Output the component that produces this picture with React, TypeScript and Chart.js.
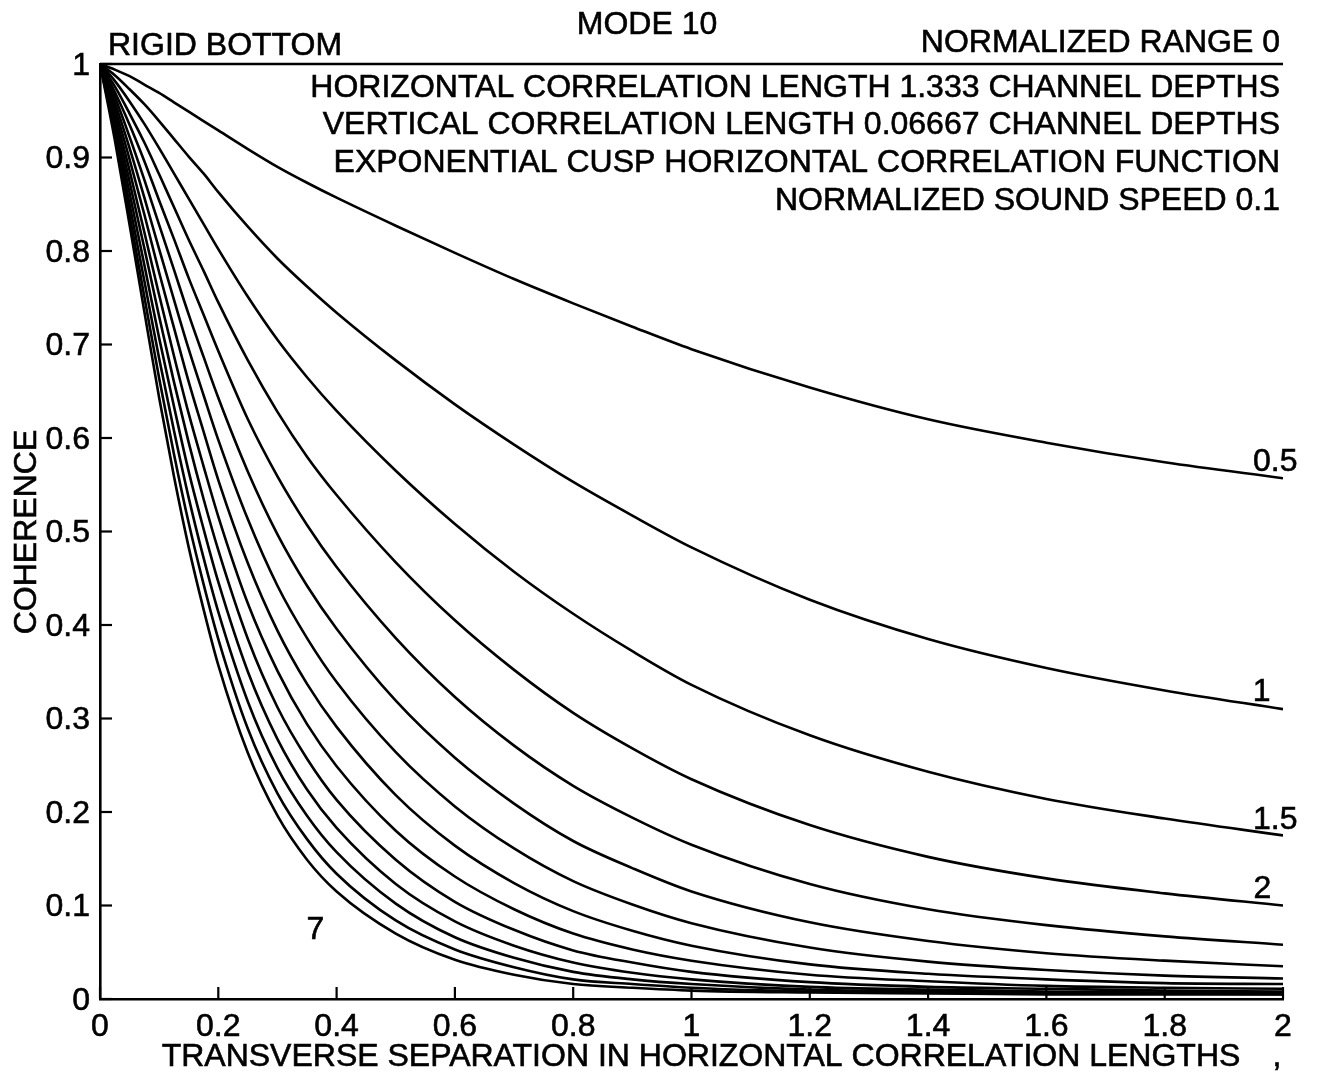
import React, { useEffect, useRef } from "react";
import { Chart, registerables } from "chart.js";

Chart.register(...registerables);

// ---- data ----
const separation = [0, 0.025, 0.05, 0.075, 0.1, 0.125, 0.15, 0.175, 0.2, 0.25, 0.3, 0.35, 0.4, 0.5, 0.6, 0.7, 0.8, 0.9, 1.0, 1.2, 1.4, 1.6, 1.8, 2.0];

const rangeNames = ["0.5", "1", "1.5", "2", "2.5", "3", "3.5", "4", "4.5", "5", "5.5", "6", "6.5", "7"];

const coh05 = [1, 0.994, 0.987, 0.978, 0.969, 0.959, 0.949, 0.939, 0.929, 0.909, 0.890, 0.873, 0.857, 0.827, 0.798, 0.770, 0.744, 0.719, 0.695, 0.654, 0.620, 0.595, 0.574, 0.557];
const coh10 = [1, 0.988, 0.973, 0.957, 0.939, 0.920, 0.901, 0.883, 0.863, 0.826, 0.792, 0.762, 0.734, 0.683, 0.636, 0.593, 0.553, 0.517, 0.483, 0.427, 0.385, 0.354, 0.330, 0.310];
const coh15 = [1, 0.982, 0.960, 0.936, 0.910, 0.883, 0.856, 0.829, 0.802, 0.751, 0.705, 0.665, 0.629, 0.565, 0.508, 0.457, 0.412, 0.372, 0.336, 0.282, 0.243, 0.214, 0.193, 0.175];
const coh20 = [1, 0.976, 0.947, 0.916, 0.882, 0.847, 0.812, 0.779, 0.745, 0.683, 0.628, 0.580, 0.539, 0.467, 0.405, 0.352, 0.306, 0.268, 0.235, 0.186, 0.152, 0.129, 0.113, 0.100];
const coh25 = [1, 0.970, 0.935, 0.896, 0.854, 0.813, 0.771, 0.732, 0.693, 0.620, 0.559, 0.507, 0.462, 0.386, 0.323, 0.271, 0.228, 0.194, 0.165, 0.123, 0.096, 0.079, 0.067, 0.058];
const coh30 = [1, 0.965, 0.922, 0.876, 0.828, 0.780, 0.732, 0.687, 0.643, 0.564, 0.497, 0.442, 0.396, 0.319, 0.258, 0.209, 0.169, 0.140, 0.115, 0.082, 0.062, 0.049, 0.041, 0.035];
const coh35 = [1, 0.959, 0.910, 0.857, 0.802, 0.748, 0.695, 0.646, 0.598, 0.513, 0.442, 0.386, 0.339, 0.264, 0.206, 0.161, 0.126, 0.101, 0.081, 0.055, 0.040, 0.031, 0.025, 0.022];
const coh40 = [1, 0.953, 0.898, 0.839, 0.777, 0.718, 0.660, 0.607, 0.555, 0.466, 0.394, 0.337, 0.291, 0.218, 0.164, 0.124, 0.094, 0.073, 0.057, 0.037, 0.027, 0.021, 0.017, 0.016];
const coh45 = [1, 0.947, 0.886, 0.820, 0.753, 0.688, 0.626, 0.570, 0.516, 0.423, 0.351, 0.294, 0.249, 0.180, 0.131, 0.096, 0.070, 0.053, 0.041, 0.026, 0.019, 0.014, 0.012, 0.011];
const coh50 = [1, 0.942, 0.874, 0.803, 0.730, 0.660, 0.595, 0.535, 0.480, 0.385, 0.312, 0.257, 0.213, 0.149, 0.104, 0.074, 0.052, 0.039, 0.029, 0.018, 0.013, 0.011, 0.009, 0.008];
const coh55 = [1, 0.936, 0.862, 0.785, 0.707, 0.634, 0.564, 0.503, 0.446, 0.350, 0.278, 0.224, 0.183, 0.123, 0.083, 0.057, 0.039, 0.028, 0.021, 0.013, 0.010, 0.008, 0.007, 0.007];
const coh60 = [1, 0.931, 0.850, 0.768, 0.685, 0.608, 0.536, 0.472, 0.414, 0.318, 0.247, 0.196, 0.157, 0.102, 0.066, 0.044, 0.029, 0.021, 0.016, 0.010, 0.008, 0.007, 0.006, 0.006];
const coh65 = [1, 0.925, 0.839, 0.751, 0.664, 0.583, 0.509, 0.444, 0.385, 0.289, 0.220, 0.171, 0.134, 0.084, 0.053, 0.034, 0.021, 0.016, 0.012, 0.008, 0.007, 0.006, 0.006, 0.005];
const coh70 = [1, 0.919, 0.828, 0.735, 0.643, 0.559, 0.483, 0.417, 0.357, 0.263, 0.196, 0.149, 0.115, 0.070, 0.042, 0.026, 0.016, 0.012, 0.009, 0.007, 0.006, 0.005, 0.005, 0.005];

const allSeries = [coh05, coh10, coh15, coh20, coh25, coh30, coh35, coh40, coh45, coh50, coh55, coh60, coh65, coh70];

const xTickValues = [0, 0.2, 0.4, 0.6, 0.8, 1, 1.2, 1.4, 1.6, 1.8, 2];
const xTickLabels = ["0", "0.2", "0.4", "0.6", "0.8", "1", "1.2", "1.4", "1.6", "1.8", "2"];
const yTickValues = [0, 0.1, 0.2, 0.3, 0.4, 0.5, 0.6, 0.7, 0.8, 0.9, 1];
const yTickLabels = ["0", "0.1", "0.2", "0.3", "0.4", "0.5", "0.6", "0.7", "0.8", "0.9", "1"];

// curve labels (text at data coordinates)
const curveLabelText = ["0.5", "1", "1.5", "2", "7"];
const curveLabelX = [1.987, 1.964, 1.987, 1.965, 0.364];
const curveLabelY = [0.574, 0.328, 0.191, 0.117, 0.074];

const titleText = "MODE 10";
const leftHeader = "RIGID BOTTOM";
const rightHeader = "NORMALIZED RANGE 0";
const infoLines = [
  "HORIZONTAL CORRELATION LENGTH 1.333 CHANNEL DEPTHS",
  "VERTICAL CORRELATION LENGTH 0.06667 CHANNEL DEPTHS",
  "EXPONENTIAL CUSP HORIZONTAL CORRELATION FUNCTION",
  "NORMALIZED SOUND SPEED 0.1",
];
const xAxisTitle = "TRANSVERSE SEPARATION IN HORIZONTAL CORRELATION LENGTHS";
const yAxisTitle = "COHERENCE";

const FONT = '32px "Liberation Sans", Arial, Helvetica, sans-serif';

function txt(ctx: CanvasRenderingContext2D, s: string, x: number, y: number) {
  ctx.fillText(s, x, y);
  ctx.strokeText(s, x, y);
}

const decorPlugin = {
  id: "decor",
  afterDraw(chart: any) {
    const { ctx, chartArea, scales } = chart;
    const xs = scales.x;
    const ys = scales.y;
    const { left, right, top, bottom } = chartArea;
    ctx.save();
    ctx.strokeStyle = "#000";
    ctx.fillStyle = "#000";
    // top frame line
    ctx.lineWidth = 2.6;
    ctx.beginPath();
    ctx.moveTo(left, top);
    ctx.lineTo(right, top);
    ctx.stroke();
    // inward ticks
    ctx.lineWidth = 2.2;
    xTickValues.forEach((v) => {
      const px = xs.getPixelForValue(v);
      ctx.beginPath();
      ctx.moveTo(px, bottom);
      ctx.lineTo(px, bottom - 12);
      ctx.stroke();
    });
    yTickValues.forEach((v) => {
      const py = ys.getPixelForValue(v);
      ctx.beginPath();
      ctx.moveTo(left, py);
      ctx.lineTo(left + 12, py);
      ctx.stroke();
    });
    // text
    ctx.font = FONT;
    ctx.lineWidth = 0.6;
    ctx.textBaseline = "middle";
    ctx.textAlign = "right";
    yTickValues.forEach((v, i) => {
      txt(ctx, yTickLabels[i], left - 10, ys.getPixelForValue(v) + 2);
    });
    ctx.textAlign = "center";
    xTickValues.forEach((v, i) => {
      txt(ctx, xTickLabels[i], xs.getPixelForValue(v), bottom + 28);
    });
    txt(ctx, xAxisTitle, 701, bottom + 58);
    txt(ctx, ",", 1277, bottom + 58);
    ctx.save();
    ctx.translate(27, 532);
    ctx.rotate(-Math.PI / 2);
    txt(ctx, yAxisTitle, 0, 0);
    ctx.restore();
    ctx.textAlign = "center";
    txt(ctx, titleText, 647, 25);
    ctx.textAlign = "left";
    txt(ctx, leftHeader, 108, 46);
    ctx.textAlign = "right";
    txt(ctx, rightHeader, 1280, 43);
    const lineYs = [88, 125, 163, 201];
    infoLines.forEach((t, i) => txt(ctx, t, 1280, lineYs[i]));
    ctx.textAlign = "center";
    curveLabelText.forEach((t, i) => {
      txt(ctx, t, xs.getPixelForValue(curveLabelX[i]), ys.getPixelForValue(curveLabelY[i]));
    });
    ctx.restore();
  },
};

export default function App() {
  const ref = useRef<HTMLCanvasElement | null>(null);
  useEffect(() => {
    if (!ref.current) return;
    const datasets = allSeries.map((arr, k) => ({
      label: rangeNames[k],
      data: separation.map((x, i) => ({ x, y: arr[i] })),
      borderColor: "#000",
      borderWidth: 2.6,
      pointRadius: 0,
      fill: false,
      cubicInterpolationMode: "monotone" as const,
    }));
    const chart = new Chart(ref.current, {
      type: "line",
      data: { datasets },
      options: {
        animation: false,
        responsive: false,
        devicePixelRatio: 1,
        layout: { padding: { left: 0, right: 38, top: 64, bottom: 0 } },
        plugins: { legend: { display: false }, tooltip: { enabled: false }, title: { display: false } },
        scales: {
          x: {
            type: "linear",
            min: 0,
            max: 2,
            ticks: { display: false, stepSize: 0.2 },
            grid: { display: false },
            border: { display: true, color: "#000", width: 2.6 },
            afterFit: (s: any) => {
              s.height = 79;
            },
          },
          y: {
            type: "linear",
            min: 0,
            max: 1,
            ticks: { display: false, stepSize: 0.1 },
            grid: { display: false },
            border: { display: true, color: "#000", width: 2.6 },
            afterFit: (s: any) => {
              s.width = 100;
            },
          },
        },
      },
      plugins: [decorPlugin],
    });
    return () => chart.destroy();
  }, []);
  return (
    <div style={{ position: "absolute", left: 0, top: 0, width: 1321, height: 1078, background: "#fff" }}>
      <canvas ref={ref} width={1321} height={1078} style={{ display: "block" }} />
    </div>
  );
}
